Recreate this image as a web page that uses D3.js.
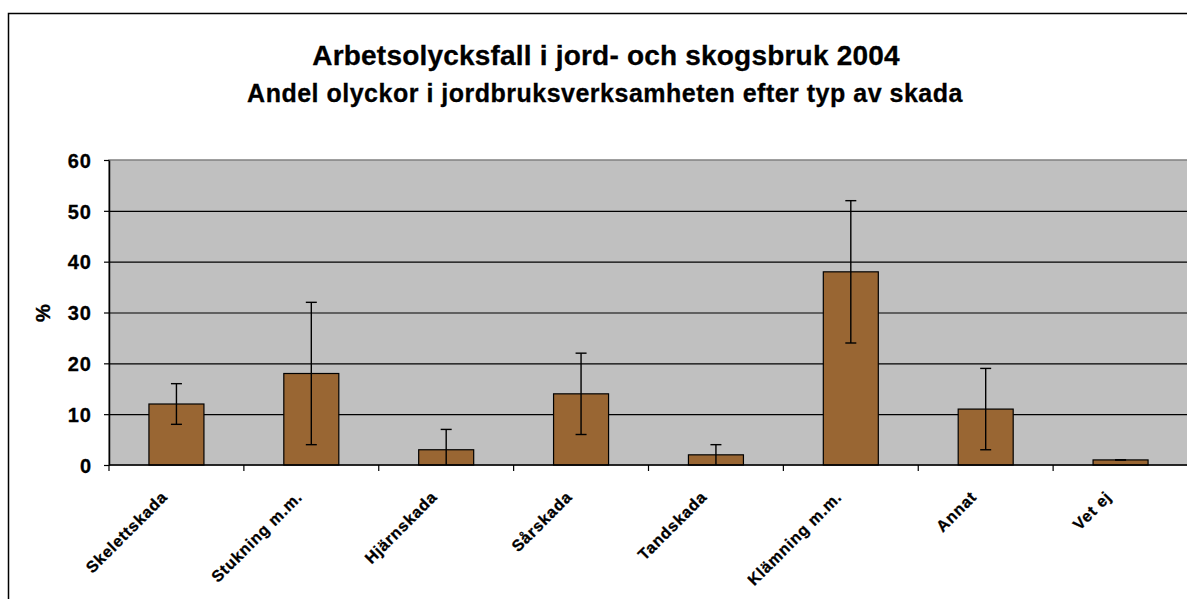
<!DOCTYPE html>
<html>
<head>
<meta charset="utf-8">
<script src="https://cdn.jsdelivr.net/npm/d3@7"></script>
<style>
    body { margin: 0; background: #fff; }
    text { font-family: "Liberation Sans", Arial, sans-serif; font-weight: bold; fill: #000; stroke: #000; stroke-width: 0.3px; }
</style>
</head>
<body>
<div id="chart"></div>
<script>
const categories = ["Skelettskada", "Stukning m.m.", "Hjärnskada", "Sårskada", "Tandskada", "Klämning m.m.", "Annat", "Vet ej"];
const values = [12, 18, 3, 14, 2, 38, 11, 1];
const errLow = [8, 4, 0, 6, 0, 24, 3, 1];
const errHigh = [16, 32, 7, 22, 4, 52, 19, 1];
const yTicks = [0, 10, 20, 30, 40, 50, 60];
const title = "Arbetsolycksfall i jord- och skogsbruk 2004";
const subtitle = "Andel olyckor i jordbruksverksamheten efter typ av skada";
const yLabel = "%";

const data = categories.map((c, i) => ({ cat: c, value: values[i], lo: errLow[i], hi: errHigh[i] }));

const W = 1187, H = 599;
const plot = { left: 109, top: 160, right: 1188, bottom: 465 };

const svg = d3.select("#chart")
    .append("svg")
    .attr("width", W)
    .attr("height", H);

svg.append("rect").attr("width", W).attr("height", H).attr("fill", "#fff");

// outer chart border (runs off the right and bottom edge)
svg.append("rect")
    .attr("x", 8.5).attr("y", 13.5)
    .attr("width", 1200).attr("height", 620)
    .attr("fill", "none")
    .attr("stroke", "#000")
    .attr("stroke-width", 1.5);

// titles
svg.append("text")
    .attr("x", 606).attr("y", 65)
    .attr("text-anchor", "middle")
    .style("font-size", "28px")
    .style("letter-spacing", "0.2px")
    .text(title);

svg.append("text")
    .attr("x", 605).attr("y", 102)
    .attr("text-anchor", "middle")
    .style("font-size", "25px")
    .style("letter-spacing", "0.5px")
    .text(subtitle);

const x = d3.scaleBand()
    .domain(categories)
    .range([plot.left, plot.right])
    .paddingInner(0)
    .paddingOuter(0);

const y = d3.scaleLinear()
    .domain([0, 60])
    .range([plot.bottom, plot.top]);

// plot background
svg.append("rect")
    .attr("x", plot.left).attr("y", plot.top)
    .attr("width", plot.right - plot.left)
    .attr("height", plot.bottom - plot.top)
    .attr("fill", "#c0c0c0")
    .attr("stroke", "#808080")
    .attr("stroke-width", 1.5);

// gridlines
svg.append("g")
    .attr("transform", `translate(${plot.left},0)`)
    .call(d3.axisRight(y).tickValues(yTicks.filter(t => t > 0 && t < 60)).tickSize(plot.right - plot.left).tickFormat(""))
    .call(g => g.select(".domain").remove())
    .selectAll("line")
    .attr("stroke", "#000")
    .attr("stroke-width", 1.2);

// y axis
const yAxis = svg.append("g")
    .attr("transform", `translate(${plot.left},0)`)
    .call(d3.axisLeft(y).tickValues(yTicks).tickSize(5).tickSizeOuter(0).tickPadding(12));
yAxis.select(".domain").attr("stroke", "#000").attr("stroke-width", 1.5);
yAxis.selectAll("line").attr("stroke", "#000").attr("stroke-width", 1.2);
yAxis.selectAll("text")
    .style("font-size", "20px")
    .style("font-weight", "bold")
    .style("font-family", "'Liberation Sans', Arial, sans-serif")
    .style("letter-spacing", "1px")
    .attr("dy", "0.36em");

svg.append("text")
    .attr("transform", "translate(50,313) rotate(-90)")
    .attr("text-anchor", "middle")
    .style("font-size", "20px")
    .text(yLabel);

// bars
const barW = 55;
svg.append("g")
    .selectAll("rect")
    .data(data)
    .join("rect")
    .attr("x", d => x(d.cat) + x.bandwidth() / 2 - barW / 2)
    .attr("y", d => y(d.value))
    .attr("width", barW)
    .attr("height", d => y(0) - y(d.value))
    .attr("fill", "#996633")
    .attr("stroke", "#000")
    .attr("stroke-width", 1.2);

// error bars
const capW = 11;
const err = svg.append("g")
    .selectAll("g")
    .data(data)
    .join("g")
    .attr("transform", d => `translate(${x(d.cat) + x.bandwidth() / 2},0)`)
    .attr("stroke", "#000")
    .attr("stroke-width", 1.4);

err.append("line")
    .attr("y1", d => y(d.lo))
    .attr("y2", d => y(d.hi));
err.append("line")
    .attr("x1", -capW / 2).attr("x2", capW / 2)
    .attr("y1", d => y(d.hi)).attr("y2", d => y(d.hi));
err.append("line")
    .filter(d => d.lo > 0)
    .attr("x1", -capW / 2).attr("x2", capW / 2)
    .attr("y1", d => y(d.lo)).attr("y2", d => y(d.lo));

// x axis line and ticks between categories
svg.append("line")
    .attr("x1", plot.left).attr("x2", plot.right)
    .attr("y1", plot.bottom).attr("y2", plot.bottom)
    .attr("stroke", "#000")
    .attr("stroke-width", 1.5);

svg.append("g")
    .selectAll("line")
    .data(categories)
    .join("line")
    .attr("x1", d => x(d)).attr("x2", d => x(d))
    .attr("y1", plot.bottom).attr("y2", plot.bottom + 6)
    .attr("stroke", "#000")
    .attr("stroke-width", 1.2);

// rotated category labels
svg.append("g")
    .selectAll("text")
    .data(categories)
    .join("text")
    .attr("transform", d => `translate(${x(d) + x.bandwidth() / 2 - 8},${plot.bottom + 33}) rotate(-45)`)
    .attr("text-anchor", "end")
    .style("font-size", "16px")
    .style("letter-spacing", "0.8px")
    .text(d => d);
</script>
</body>
</html>
